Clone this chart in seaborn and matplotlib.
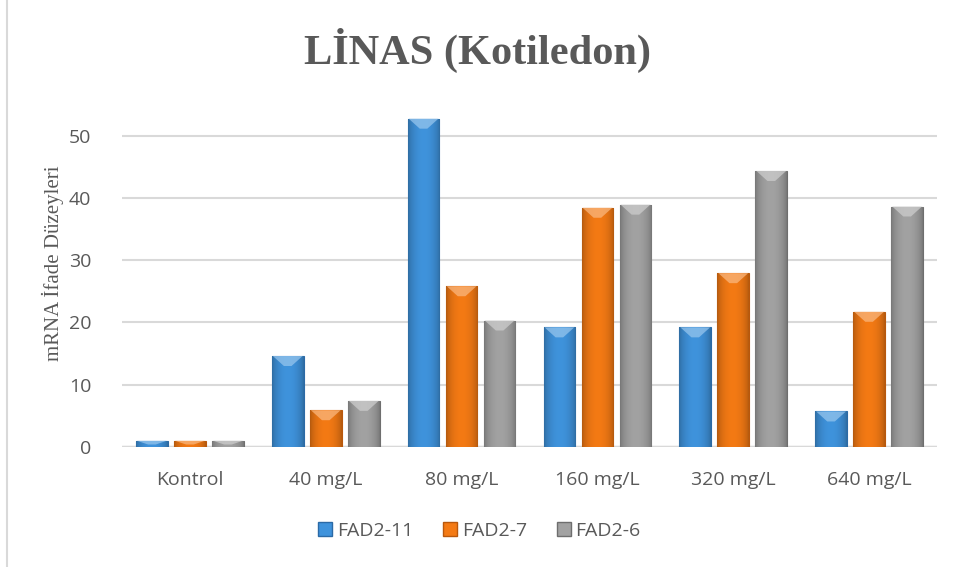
import numpy as np
import pandas as pd
import matplotlib
matplotlib.use("Agg")
import matplotlib.pyplot as plt
import seaborn as sns
from matplotlib.lines import Line2D

categories = ["Kontrol", "40 mg/L", "80 mg/L", "160 mg/L", "320 mg/L", "640 mg/L"]
series_names = ["FAD2-11", "FAD2-7", "FAD2-6"]
fad2_11 = [1.0, 14.6, 52.7, 19.2, 19.2, 5.7]
fad2_7 = [1.0, 5.9, 25.8, 38.4, 27.9, 21.7]
fad2_6 = [1.0, 7.4, 20.3, 38.9, 44.3, 38.6]
y_ticks = [0, 10, 20, 30, 40, 50]

colors = ["#3F93DC", "#F47A14", "#A2A2A2"]
edge_colors = ["#2B6AA6", "#B9580C", "#6E6E6E"]
text_grey = "#595959"

df = pd.DataFrame({
    "kategori": categories * 3,
    "seri": sum([[s] * len(categories) for s in series_names], []),
    "deger": fad2_11 + fad2_7 + fad2_6,
})

sns.set_theme(style="white")
plt.rcParams["font.family"] = ["Open Sans", "DejaVu Sans"]

fig = plt.figure(figsize=(9.56, 5.67), dpi=100)
ax = fig.add_axes([122 / 956, 1 - 447 / 567, (937 - 122) / 956, (447 - 100) / 567])

sns.barplot(data=df, x="kategori", y="deger", hue="seri", order=categories,
            hue_order=series_names, palette=colors, width=0.84, gap=0.17,
            saturation=1, errorbar=None, ax=ax, legend=False, zorder=3)

# shaded bevel look on each bar
shade = np.linspace(0, 1, 64)
profile = 0.72 + 0.28 * np.sin(np.pi * shade) ** 0.6
for i, container in enumerate(ax.containers):
    base = np.array(matplotlib.colors.to_rgb(colors[i]))
    grad = np.clip(base[None, :] * profile[:, None], 0, 1)[None, :, :]
    light = np.clip(base + (1 - base) * 0.45, 0, 1)
    for bar in container:
        x0, y0 = bar.get_x(), bar.get_y()
        w, h = bar.get_width(), bar.get_height()
        bar.set_edgecolor(edge_colors[i])
        bar.set_linewidth(0.8)
        im = ax.imshow(grad, extent=[x0, x0 + w, y0, y0 + h], aspect="auto",
                       zorder=3.5, interpolation="bicubic")
        im.set_clip_path(bar)
        # light bevel at the top of the bar
        cap = min(h * 0.6, 1.6)
        tri_x = [x0 + w * 0.03, x0 + w * 0.97, x0 + w * 0.62, x0 + w * 0.38]
        tri_y = [y0 + h, y0 + h, y0 + h - cap, y0 + h - cap]
        ax.fill(tri_x, tri_y, color=light, zorder=3.6, lw=0, alpha=0.75)

ax.set_xlim(-0.5, len(categories) - 0.5)
ax.set_ylim(0, 55.7)
ax.set_yticks(y_ticks)
ax.yaxis.grid(True, color="#D9D9D9", linewidth=1.5, zorder=0)
ax.axhline(0, color="#D9D9D9", linewidth=2.5, zorder=2)
for s in ax.spines.values():
    s.set_visible(False)
ax.tick_params(axis="both", length=0, labelsize=14, labelcolor=text_grey)
ax.tick_params(axis="x", pad=17)
ax.tick_params(axis="y", pad=22)
ax.set_xlabel("")
ax.set_ylabel("mRNA İfade Düzeyleri", family=["Liberation Serif", "DejaVu Serif"],
              fontsize=15, color=text_grey)
ax.yaxis.set_label_coords(-0.071, 0.53)

fig.text(0.5, 1 - 50 / 567, "LİNAS (Kotiledon)", ha="center", va="center",
         family=["Liberation Serif", "DejaVu Serif"], fontsize=30.5, fontweight="bold",
         color=text_grey)

handles = [Line2D([], [], marker="s", linestyle="", markersize=10,
                  markerfacecolor=colors[i], markeredgecolor=edge_colors[i])
           for i in range(3)]
fig.legend(handles, series_names, loc="center", bbox_to_anchor=(0.5, 1 - 531 / 567),
           ncol=3, frameon=False, fontsize=14, labelcolor=text_grey,
           handletextpad=0.1, columnspacing=1.4, handlelength=1.0)

fig.add_artist(Line2D([7 / 956, 7 / 956], [0, 1], color="#D9D9D9", linewidth=1.5))

fig.savefig("out.png", dpi=100, facecolor="white")
